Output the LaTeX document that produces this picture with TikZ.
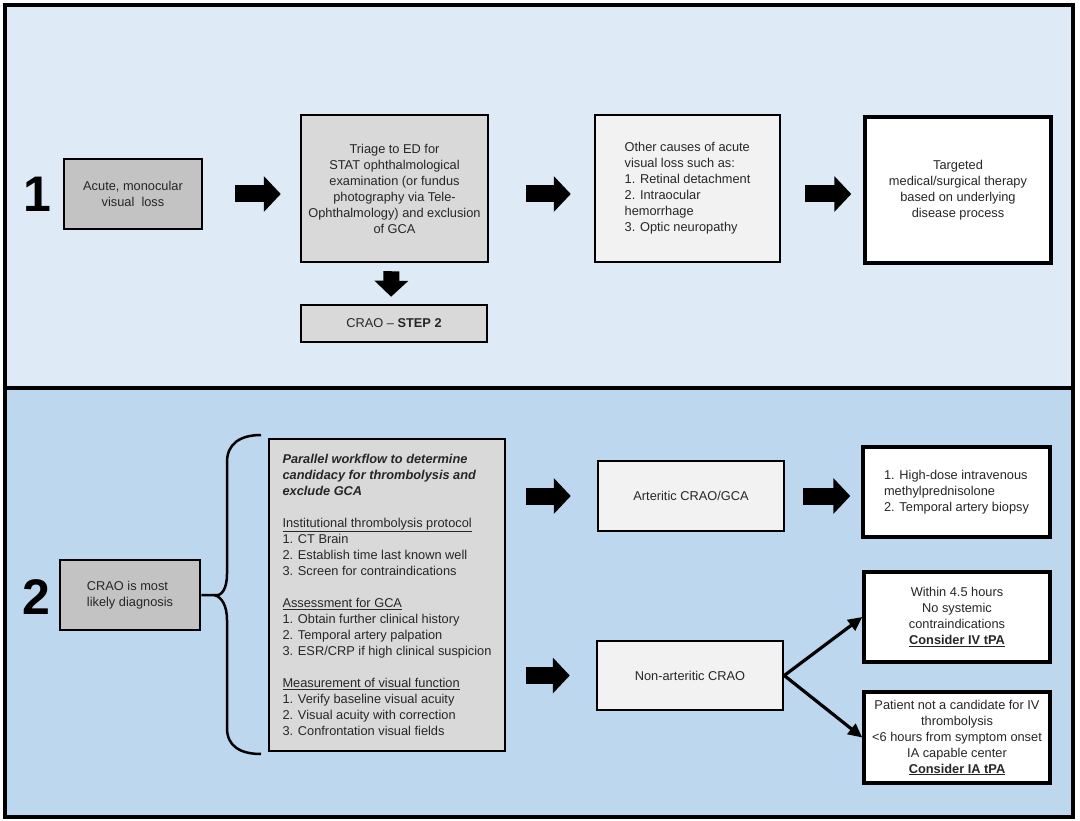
\documentclass[tikz,border=0pt]{standalone}
\usepackage{fontspec}
\setmainfont{Liberation Sans}
\usepackage{tikz}
\usetikzlibrary{calc}
\usetikzlibrary{positioning}
\usetikzlibrary{arrows.meta}

\definecolor{topblue}{HTML}{DEEBF7}
\definecolor{lowblue}{HTML}{BDD7EE}
\definecolor{darkgrey}{HTML}{C3C3C3}
\definecolor{midgrey}{HTML}{D9D9D9}
\definecolor{lightgrey}{HTML}{F2F2F2}
\definecolor{txtgrey}{HTML}{262626}

\begin{document}
\begin{tikzpicture}[x=1pt,y=-1pt,
    box/.style={draw=black,line width=2.5pt,inner sep=0pt,text=txtgrey,
      font=\fontsize{12.8}{16}\selectfont,align=center},
    whitebox/.style={box,fill=white,line width=3.5pt},
    bignum/.style={font=\fontsize{50}{50}\selectfont\bfseries},
    blockarrow/.style={line width=17pt,-{Triangle[length=17pt,width=35pt]}},
    downarrow/.style={line width=16pt,-{Triangle[length=16pt,width=33pt]}},
    thinarrow/.style={line width=3.2pt,-{Triangle[length=14pt,width=13pt]}}]
      \useasboundingbox (0,0) rectangle (1080,821);
      % panels
      \fill[topblue] (5,5) rectangle (1073,388);
      \fill[lowblue] (5,388) rectangle (1073,817);
      \draw[line width=4pt] (5,5) rectangle (1073,388);
      \draw[line width=4pt] (5,388) rectangle (1073,817);

      % step 1
      \node[bignum] (one) at (37,194) {1};
      \node[box,fill=darkgrey,minimum width=138pt,minimum height=70pt] (acute) at (133,194)
        {Acute, monocular\\visual\ \ loss};
      \node[box,fill=midgrey,minimum width=187pt,minimum height=147pt] (triage) at (394.5,188.5)
        {Triage to ED for\\STAT ophthalmological\\examination (or fundus\\photography via Tele-\\Ophthalmology) and exclusion\\of GCA};
      \node[box,fill=midgrey,minimum width=186pt,minimum height=37pt] (step) at (394,323.5)
        {CRAO -- \textbf{STEP 2}};
      \node[box,fill=lightgrey,align=left,minimum width=185pt,minimum height=147pt] (other) at (687.5,188.5)
        {Other causes of acute\\visual loss such as:\\1. Retinal detachment\\2. Intraocular\\hemorrhage\\3. Optic neuropathy};
      \node[whitebox,minimum width=186pt,minimum height=146pt] (therapy) at (958,190)
        {Targeted\\medical/surgical therapy\\based on underlying\\disease process};

      \draw[blockarrow,shorten <=32pt,shorten >=19pt] (acute.east) -- (acute.east -| triage.west);
      \draw[blockarrow,shorten <=37pt,shorten >=23pt] (triage.east |- acute.east) -- (other.west |- acute.east);
      \draw[blockarrow,shorten <=24pt,shorten >=12pt] (other.east |- acute.east) -- (therapy.west |- acute.east);
      \draw[downarrow,shorten <=8pt,shorten >=7pt] ($(triage.south)+(-3,0)$) -- ($(step.north)+(-3,0)$);

      % step 2
      \node[bignum] (two) at (36,597) {2};
      \node[box,fill=darkgrey,align=left,minimum width=140pt,minimum height=70pt] (likely) at (130,595)
        {CRAO is most\\likely diagnosis};
      \node[box,fill=midgrey,align=left,minimum width=236pt,minimum height=312pt] (workflow) at (387,595)
        {\textbf{\textit{Parallel workflow to determine}}\\
         \textbf{\textit{candidacy for thrombolysis and}}\\
         \textbf{\textit{exclude GCA}}\\[16pt]
         \underline{Institutional thrombolysis protocol}\\
         1. CT Brain\\
         2. Establish time last known well\\
         3. Screen for contraindications\\[16pt]
         \underline{Assessment for GCA}\\
         1. Obtain further clinical history\\
         2. Temporal artery palpation\\
         3. ESR/CRP if high clinical suspicion\\[16pt]
         \underline{Measurement of visual function}\\
         1. Verify baseline visual acuity\\
         2. Visual acuity with correction\\
         3. Confrontation visual fields};
      \node[box,fill=lightgrey,minimum width=186pt,minimum height=70pt] (arteritic) at (691,496)
        {Arteritic CRAO/GCA};
      \node[whitebox,align=left,minimum width=187pt,minimum height=90pt] (steroid) at (956.5,492)
        {1. High-dose intravenous\\methylprednisolone\\2. Temporal artery biopsy};
      \node[box,fill=lightgrey,minimum width=186pt,minimum height=69pt] (nonart) at (690,675.5)
        {Non-arteritic CRAO};
      \node[whitebox,minimum width=186pt,minimum height=90pt] (ivtpa) at (957,617)
        {Within 4.5 hours\\No systemic\\contraindications\\\underline{\textbf{Consider IV tPA}}};
      \node[whitebox,minimum width=186pt,minimum height=91pt] (iatpa) at (957,737.5)
        {Patient not a candidate for IV\\thrombolysis\\<6 hours from symptom onset\\IA capable center\\\underline{\textbf{Consider IA tPA}}};

      % brace
      \draw[line width=2.5pt] (likely.east) -- ++(13,0)
        .. controls (222,597) and (227,588) .. (227,574) -- (227,462)
        .. controls (227,444) and (240,435) .. (261,435);
      \draw[line width=2.5pt] (likely.east) ++(13,0)
        .. controls (222,597) and (227,606) .. (227,620) -- (227,728)
        .. controls (227,746) and (240,754) .. (261,754);

      \draw[blockarrow,shorten <=20pt,shorten >=26pt] (workflow.east |- arteritic.west) -- (arteritic.west);
      \draw[blockarrow,shorten <=20pt,shorten >=26pt] (workflow.east |- nonart.west) -- (nonart.west);
      \draw[blockarrow,shorten <=18pt,shorten >=11pt] (arteritic.east) -- (arteritic.east -| steroid.west);
      \draw[thinarrow] (nonart.east) -- (ivtpa.west);
      \draw[thinarrow] (nonart.east) -- (iatpa.west);
\end{tikzpicture}
\end{document}
